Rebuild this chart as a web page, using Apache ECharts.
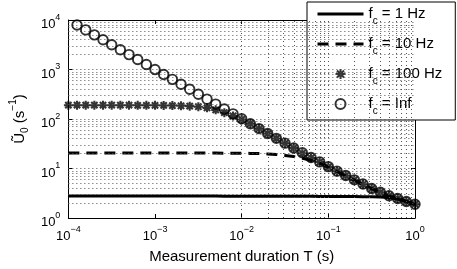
<!DOCTYPE html>
<html><head><meta charset="utf-8">
<script src="https://cdn.jsdelivr.net/npm/echarts@6/dist/echarts.min.js"></script>
<style>html,body{margin:0;padding:0;background:#fff}#c{width:457px;height:269px}</style>
</head><body><div id="c"></div>
<script>
// Measurement duration T, as log10 exponents (0.1-decade steps)
const logT = [-4,-3.9,-3.8,-3.7,-3.6,-3.5,-3.4,-3.3,-3.2,-3.1,-3.0,
  -2.9,-2.8,-2.7,-2.6,-2.5,-2.4,-2.3,-2.2,-2.1,-2.0,
  -1.9,-1.8,-1.7,-1.6,-1.5,-1.4,-1.3,-1.2,-1.1,-1.0,
  -0.9,-0.8,-0.7,-0.6,-0.5,-0.4,-0.3,-0.2,-0.1,0];
const seriesNames = ['fc = 1 Hz','fc = 10 Hz','fc = 100 Hz','fc = Inf'];
const legendText = [' = 1 Hz',' = 10 Hz',' = 100 Hz',' = Inf'];
const u1Hz = [2.79,2.79,2.79,2.79,2.79,2.79,2.79,2.79,2.78,2.78,2.78,
  2.78,2.78,2.78,2.77,2.77,2.77,2.77,2.76,2.76,2.76,
  2.76,2.75,2.75,2.75,2.75,2.74,2.74,2.74,2.73,2.73,
  2.73,2.72,2.71,2.70,2.68,2.65,2.58,2.42,2.17,1.87];
const u10Hz = [20.6,20.6,20.6,20.6,20.6,20.6,20.6,20.6,20.6,20.6,20.6,
  20.6,20.6,20.5,20.5,20.5,20.5,20.5,20.4,20.4,20.3,
  20.2,20.0,19.7,19.2,18.4,17.4,16.1,14.6,12.9,10.7,
  8.7,7.1,5.8,4.75,3.9,3.28,2.78,2.45,2.13,1.88];
const u100Hz = [190,190,190,190,190,190,190,190,189,189,189,
  188,187,185,182,177,168,153,134,115,98,
  80.5,64,50.8,40.5,32.3,25.8,20.3,16.3,13.5,10.8,
  8.8,7.15,5.85,4.8,3.92,3.3,2.8,2.47,2.15,1.9];
const uInf = [null,7940,6310,5010,3980,3160,2510,2000,1590,1260,1000,
  795,632,502,399,317,252,200,159,127,101,
  80.3,64,51,40.7,32.5,26,20.8,16.7,13.6,10.9,
  8.85,7.2,5.9,4.85,3.95,3.32,2.82,2.48,2.16,1.9];
const xDecades = [-4,-3,-2,-1,0];
const yDecades = [0,1,2,3,4];

const T = logT.map(e => Math.pow(10, e));
const pairs = arr => arr.map((v, i) => [T[i], v]);
const FONT = "'Liberation Sans', Arial, sans-serif";

// dotted grid positions (1..9 x 10^n)
const gridX = [], gridY = [];
for (let d = xDecades[0]; d < xDecades[xDecades.length-1]; d++)
  for (let k = 1; k <= 9; k++) if (!(d === xDecades[0] && k === 1)) gridX.push(k * Math.pow(10, d));
for (let d = yDecades[0]; d < yDecades[yDecades.length-1]; d++)
  for (let k = 1; k <= 9; k++) if (!(d === yDecades[0] && k === 1)) gridY.push(k * Math.pow(10, d));

const expLabel = v => {
  const e = Math.round(Math.log10(v));
  return '{b|10}{s|' + (e < 0 ? '\u2212' + (-e) : e) + '}';
};
const tickRich = {
  b: {fontSize: 13, fontFamily: FONT, color: '#000', lineHeight: 14, padding: [5,0,0,0], verticalAlign: 'top'},
  s: {fontSize: 9, fontFamily: FONT, color: '#000', lineHeight: 9, verticalAlign: 'top'}
};
const frame = {show: true, lineStyle: {color: '#000', width: 1}};
const tick = {show: true, inside: true, length: 4, lineStyle: {color: '#000'}};
const noSym = {color: 'transparent', borderWidth: 0, opacity: 0};
const markStyle = {color: 'transparent', borderColor: '#000', borderWidth: 2};

const chart = echarts.init(document.getElementById('c'), null, {renderer: 'canvas'});
chart.setOption({
  animation: false,
  backgroundColor: '#fff',
  grid: {left: 65, top: 20, width: 350, height: 201},
  xAxis: [
    {type: 'log', min: 1e-4, max: 1, logBase: 10, splitNumber: 4,
     axisLine: frame, axisTick: tick, splitLine: {show: false},
     axisLabel: {formatter: expLabel, rich: tickRich, margin: 7},
     name: 'Measurement duration T (s)', nameLocation: 'middle', nameGap: 31,
     nameTextStyle: {fontSize: 15, fontFamily: FONT, color: '#000'}},
    {type: 'log', min: 1e-4, max: 1, logBase: 10, splitNumber: 4, position: 'top',
     axisLine: frame, axisTick: tick, splitLine: {show: false}, axisLabel: {show: false}}
  ],
  yAxis: [
    {type: 'log', min: 1, max: 1e4, logBase: 10, splitNumber: 4,
     axisLine: frame, axisTick: tick, splitLine: {show: false},
     axisLabel: {formatter: expLabel, rich: tickRich, margin: 8},
     name: '{u|\u0168}{sub|0}{u| (s}{sup|\u22121}{u|)}', nameLocation: 'middle', nameGap: 42, nameRotate: 90,
     nameTextStyle: {rich: {
       u: {fontSize: 15, fontFamily: FONT, color: '#000', lineHeight: 17, padding: [4,0,0,0], verticalAlign: 'top'},
       sub: {fontSize: 10, fontFamily: FONT, color: '#000', lineHeight: 10, padding: [12,0,0,0], verticalAlign: 'top'},
       sup: {fontSize: 10, fontFamily: FONT, color: '#000', lineHeight: 10, verticalAlign: 'top'}
     }}},
    {type: 'log', min: 1, max: 1e4, logBase: 10, splitNumber: 4, position: 'right',
     axisLine: frame, axisTick: tick, splitLine: {show: false}, axisLabel: {show: false}}
  ],
  legend: {
    left: 307, top: 2, orient: 'vertical', selectedMode: false,
    data: [
      {name: seriesNames[0], itemStyle: noSym},
      {name: seriesNames[1], itemStyle: noSym},
      {name: seriesNames[2], itemStyle: markStyle},
      {name: seriesNames[3], itemStyle: markStyle}
    ],
    backgroundColor: '#fff', borderColor: '#000', borderWidth: 1,
    padding: [4, 13, 4, 9], itemWidth: 46, itemHeight: 10, itemGap: 10,
    lineStyle: {width: 3},
    formatter: name => '{f|f}{c|c}{t|' + legendText[seriesNames.indexOf(name)] + '}',
    textStyle: {rich: {
      f: {fontSize: 15, fontFamily: FONT, color: '#000', lineHeight: 16, verticalAlign: 'top'},
      t: {fontSize: 15, fontFamily: FONT, color: '#000', lineHeight: 16, verticalAlign: 'top'},
      c: {fontSize: 10, fontFamily: FONT, color: '#000', lineHeight: 10, padding: [10,0,0,0], verticalAlign: 'top'}
    }}
  },
  series: [
    {type: 'line', name: 'grid', data: [], z: 1, silent: true,
     markLine: {silent: true, symbol: ['none','none'], label: {show: false}, animation: false,
       lineStyle: {color: '#555', width: 1, type: [1,3]},
       emphasis: {disabled: true},
       data: gridX.map(v => ({xAxis: v})).concat(gridY.map(v => ({yAxis: v})))}},
    {type: 'line', name: seriesNames[0], data: pairs(u1Hz), symbol: 'none', z: 3,
     lineStyle: {color: '#000', width: 3, type: 'solid'}, itemStyle: {color: '#000'}},
    {type: 'line', name: seriesNames[1], data: pairs(u10Hz), symbol: 'none', z: 3,
     lineStyle: {color: '#000', width: 3, type: [11, 7]}, itemStyle: {color: '#000'}},
    {type: 'scatter', name: seriesNames[2], data: pairs(u100Hz), z: 4, clip: false,
     symbol: 'path://M0,5L10,5M5,0L5,10M1.5,1.5L8.5,8.5M8.5,1.5L1.5,8.5', symbolSize: 9,
     itemStyle: {color: 'transparent', borderColor: '#000', borderWidth: 2.1}},
    {type: 'scatter', name: seriesNames[3], data: pairs(uInf), z: 5, clip: false,
     symbol: 'circle', symbolSize: 9.5,
     itemStyle: {color: 'transparent', borderColor: '#000', borderWidth: 1.9}}
  ]
});
</script></body></html>
